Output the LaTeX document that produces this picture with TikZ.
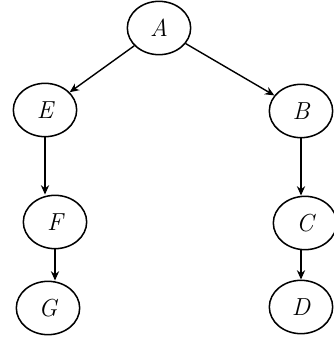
\documentclass[tikz,border=0pt]{standalone}
\usepackage{fontspec}
\usetikzlibrary{shapes.geometric,arrows.meta}

\tikzset{
  vert/.style={draw, ellipse, line width=1.3pt, minimum width=1.9cm, minimum height=1.6cm, inner sep=0pt, font=\fontsize{21}{22}\selectfont\itshape},
  edge/.style={line width=1.2pt, -{Stealth[length=8pt,width=7pt]}}
}

\begin{document}
\begin{tikzpicture}[x=0.03cm, y=-0.03cm]
            \useasboundingbox (0,0) rectangle (334,353);

            \node[vert] (A) at (159,28) {A};
            \node[vert] (E) at (45,110) {E};
            \node[vert] (B) at (301,111) {B};
            \node[vert] (F) at (55,222) {F};
            \node[vert] (C) at (305,223) {C};
            \node[vert] (G) at (48,308) {G};
            \node[vert] (D) at (301,307) {D};

            \draw[edge] (A) -- (E);
            \draw[edge] (A) -- (B);
            \draw[edge] (E.south) -- (E.south |- F.north);
            \draw[edge] (B.south) -- (B.south |- C.north);
            \draw[edge] (F.south) -- (F.south |- G.north);
            \draw[edge] (C.south -| D.north) -- (D.north);
        \end{tikzpicture}
\end{document}
